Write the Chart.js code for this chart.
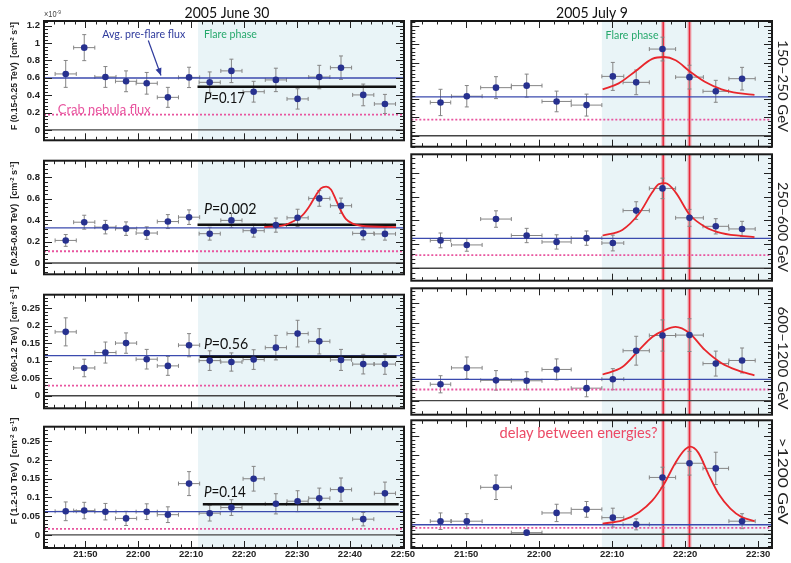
<!DOCTYPE html>
<html>
<head>
<meta charset="utf-8">
<script src="https://cdn.jsdelivr.net/npm/chart.js@4.4.1/dist/chart.umd.min.js"></script>
<style>
  html, body { margin: 0; padding: 0; background: #fff; }
  #fig { position: relative; width: 791px; height: 563px; overflow: hidden; }
  #fig canvas { position: absolute; }
</style>
</head>
<body>
<div id="fig"></div>
<script>
// time axis: minutes after 21:00 UT
const juneTimes   = [46.3, 49.8, 53.8, 57.7, 61.6, 65.6, 69.6, 73.5, 77.6, 81.8, 86.0, 90.1, 94.2, 98.3, 102.5, 106.6];
const juneTimeErr = [2.0, 2.0, 2.0, 2.0, 2.0, 2.0, 2.0, 2.0, 2.0, 2.0, 2.0, 2.0, 2.0, 2.0, 2.0, 2.0];
const julyTimes   = [46.5, 50.1, 54.1, 58.3, 62.4, 66.5, 70.1, 73.3, 76.9, 80.6, 84.2, 87.8];
const julyTimeErr = [1.4, 2.1, 2.1, 2.1, 2.0, 2.1, 1.5, 1.8, 1.8, 1.9, 1.75, 1.8];

// flux values (x 1e-9 cm^-2 s^-1 for the first band)
const june150    = [0.645, 0.948, 0.61, 0.56, 0.537, 0.375, 0.605, 0.548, 0.68, 0.44, 0.576, 0.357, 0.609, 0.717, 0.403, 0.299];
const june150Err = [0.155, 0.15, 0.12, 0.12, 0.125, 0.115, 0.117, 0.12, 0.135, 0.12, 0.135, 0.117, 0.135, 0.135, 0.125, 0.11];
const july150    = [0.364, 0.432, 0.526, 0.548, 0.375, 0.335, 0.649, 0.584, 0.948, 0.641, 0.486, 0.624];
const july150Err = [0.144, 0.117, 0.12, 0.126, 0.113, 0.12, 0.153, 0.135, 0.13, 0.13, 0.12, 0.124];

const june250    = [0.211, 0.381, 0.335, 0.321, 0.28, 0.387, 0.428, 0.274, 0.398, 0.302, 0.354, 0.422, 0.603, 0.535, 0.277, 0.272];
const june250Err = [0.055, 0.065, 0.063, 0.063, 0.058, 0.065, 0.068, 0.06, 0.065, 0.06, 0.066, 0.08, 0.073, 0.071, 0.06, 0.058];
const july250    = [0.233, 0.195, 0.412, 0.274, 0.22, 0.252, 0.211, 0.483, 0.669, 0.422, 0.351, 0.329];
const july250Err = [0.062, 0.053, 0.069, 0.06, 0.06, 0.06, 0.066, 0.074, 0.086, 0.071, 0.064, 0.064];

const june600    = [0.182, 0.079, 0.123, 0.15, 0.104, 0.085, 0.144, 0.1, 0.096, 0.103, 0.137, 0.177, 0.155, 0.102, 0.09, 0.09];
const june600Err = [0.04, 0.025, 0.03, 0.029, 0.028, 0.027, 0.033, 0.028, 0.026, 0.028, 0.035, 0.038, 0.036, 0.03, 0.028, 0.029];
const july600    = [0.042, 0.084, 0.052, 0.051, 0.08, 0.032, 0.055, 0.128, 0.167, 0.168, 0.095, 0.103];
const july600Err = [0.022, 0.028, 0.025, 0.023, 0.027, 0.022, 0.027, 0.037, 0.04, 0.042, 0.032, 0.032];

const june1200    = [0.063, 0.065, 0.062, 0.044, 0.062, 0.054, 0.137, 0.058, 0.073, 0.15, 0.083, 0.09, 0.098, 0.121, 0.042, 0.111];
const june1200Err = [0.025, 0.022, 0.022, 0.019, 0.021, 0.021, 0.032, 0.021, 0.021, 0.033, 0.027, 0.028, 0.027, 0.031, 0.018, 0.03];
const july1200    = [0.033, 0.033, 0.119, 0.004, 0.054, 0.063, 0.042, 0.025, 0.144, 0.18, 0.167, 0.033];
const july1200Err = [0.021, 0.019, 0.031, 0.006, 0.022, 0.02, 0.024, 0.014, 0.026, 0.03, 0.041, 0.019];

// reference levels per band
const junePreFlare = [0.598, 0.329, 0.114, 0.062];
const julyPreFlare = [0.425, 0.25, 0.0545, 0.024];
const crabFlux     = [0.176, 0.11, 0.0286, 0.016];
const juneConstFit  = [0.497, 0.357, 0.111, 0.082];
const juneConstFrom = [71.2, 71.2, 71.6, 72.2];
const juneConstTo   = [108.7, 108.7, 108.8, 109.2];
const juneProb      = ['0.17', '0.002', '0.56', '0.14'];
const juneFlareStart = 71.3;
const julyFlareStart = 68.6;
const julyPeakTimes  = [77.0, 80.6];

// flare fits
const juneFit250T = [83.8, 87.6, 89.5, 91.0, 92.3, 93.6, 94.5, 95.5, 96.4, 97.3, 98.3, 99.2, 100.5, 102.1, 108.7];
const juneFit250V = [0.335, 0.354, 0.395, 0.444, 0.527, 0.636, 0.697, 0.713, 0.686, 0.595, 0.486, 0.412, 0.368, 0.348, 0.335];
const julyFit150T = [68.7, 70.9, 73.2, 75.5, 77.1, 78.7, 80.6, 82.7, 85.0, 87.3, 89.5];
const julyFit150V = [0.508, 0.573, 0.706, 0.84, 0.861, 0.825, 0.706, 0.591, 0.508, 0.465, 0.447];
const julyFit250T = [68.7, 71.4, 73.7, 75.5, 76.4, 77.3, 78.7, 80.6, 82.7, 85.0, 89.5];
const julyFit250V = [0.274, 0.321, 0.458, 0.636, 0.705, 0.713, 0.636, 0.45, 0.348, 0.294, 0.261];
const julyFit600T = [68.7, 71.4, 73.7, 75.5, 77.1, 78.7, 80.6, 82.7, 85.0, 87.3, 89.5];
const julyFit600V = [0.067, 0.086, 0.13, 0.163, 0.18, 0.189, 0.173, 0.13, 0.096, 0.077, 0.065];
const julyFit1200T = [68.7, 71.4, 73.7, 75.5, 77.1, 78.7, 80.0, 80.7, 81.8, 83.2, 84.6, 86.2, 87.7, 89.5];
const julyFit1200V = [0.027, 0.035, 0.056, 0.085, 0.127, 0.182, 0.215, 0.222, 0.207, 0.152, 0.102, 0.065, 0.044, 0.033];

const SANS = '"Liberation Sans", Arial, sans-serif';
const LATO = 'Lato, "Noto Sans", sans-serif';

const cols = [
  { left: true,  x0: 44,  x1: 404, tMin: 42.2, tMax: 110.2, flare: juneFlareStart, times: juneTimes, timeErr: juneTimeErr,
    flux: [june150, june250, june600, june1200], err: [june150Err, june250Err, june600Err, june1200Err],
    pre: junePreFlare },
  { left: false, x0: 410, x1: 772, tMin: 42.5, tMax: 91.9, flare: julyFlareStart, times: julyTimes, timeErr: julyTimeErr,
    flux: [july150, july250, july600, july1200], err: [july150Err, july250Err, july600Err, july1200Err],
    pre: julyPreFlare }
];

// ROOT style: 5 minor divisions per major step
const rows = [
  { y0: 21,  y1: 148, yMin: -0.12,  yMax: 1.255, step: 0.2,  minor: 0.04,
    eband: 'F (0.15-0.25 TeV)', titleY: 76, titleW: 108, band: '150\u2013250 GeV', bandY: 86, bandW: 92 },
  { y0: 153, y1: 282, yMin: -0.105, yMax: 0.955, step: 0.2,  minor: 0.04,
    eband: 'F (0.25-0.60 TeV)', titleY: 218, titleW: 113, band: '250\u2013600 GeV', bandY: 227, bandW: 90 },
  { y0: 287, y1: 416, yMin: -0.036, yMax: 0.288, step: 0.05, minor: 0.01,
    eband: 'F (0.60-1.2 TeV)', titleY: 338, titleW: 103, band: '600\u20131200 GeV', bandY: 358, bandW: 103 },
  { y0: 419, y1: 548, yMin: -0.035, yMax: 0.289, step: 0.05, minor: 0.01,
    eband: 'F (1.2-10 TeV)', titleY: 471, titleW: 107, band: '>1200 GeV', bandY: 481, bandW: 87 }
];

const fitCurves = {
  '0-1': [julyFit150T, julyFit150V], '1-1': [julyFit250T, julyFit250V],
  '2-1': [julyFit600T, julyFit600V], '3-1': [julyFit1200T, julyFit1200V],
  '1-0': [juneFit250T, juneFit250V]
};

function fmtTime(v) {
  const h = 21 + Math.floor(v / 60);
  const m = Math.round(v % 60);
  return h + ':' + String(m).padStart(2, '0');
}

// draw text pieces squeezed to a given width
function drawParts(ctx, parts, x, y, align, targetW, color) {
  let total = 0;
  parts.forEach(p => { ctx.font = p.font; p.w = ctx.measureText(p.text).width; total += p.w; });
  const sx = targetW ? targetW / total : 1;
  ctx.save();
  ctx.translate(x, y);
  ctx.scale(sx, 1);
  let cx = align === 'center' ? -total / 2 : (align === 'right' ? -total : 0);
  ctx.fillStyle = color;
  ctx.textBaseline = 'middle';
  ctx.textAlign = 'left';
  parts.forEach(p => { ctx.font = p.font; ctx.fillText(p.text, cx, p.dy || 0); cx += p.w; });
  ctx.restore();
}

function pText(prob, size) {
  return [{ text: 'P', font: 'italic ' + size + 'px ' + LATO }, { text: '=' + prob, font: size + 'px ' + LATO }];
}

const fig = document.getElementById('fig');

function makePanel(ci, ri) {
  const col = cols[ci], row = rows[ri];
  const isBottom = ri === 3;
  const padT = ri === 0 ? row.y0 : 2;
  const padB = 2;
  const axisH = isBottom ? 13 : 0;
  const axisW = col.left ? 44 : 0;
  const padL = col.left ? 0 : 2;
  const padR = col.left ? 16 : 19;
  const left = col.x0 - axisW - padL;
  const top = row.y0 - padT;
  const width = padL + axisW + (col.x1 - col.x0) + padR;
  const height = padT + (row.y1 - row.y0) + axisH + padB;

  const cv = document.createElement('canvas');
  cv.width = width; cv.height = height;
  cv.style.left = left + 'px'; cv.style.top = top + 'px';
  cv.style.width = width + 'px'; cv.style.height = height + 'px';
  fig.appendChild(cv);

  const flux = col.flux[ri], err = col.err[ri];
  const points = col.times.map((t, i) => ({ x: t, y: flux[i] }));

  const datasets = [{
    type: 'scatter', data: points, pointRadius: 3.3, pointBackgroundColor: '#27318f',
    pointBorderWidth: 0, pointHoverRadius: 3.3
  }];
  const fit = fitCurves[ri + '-' + ci];
  if (fit) {
    datasets.push({
      type: 'line', data: fit[0].map((t, i) => ({ x: t, y: fit[1][i] })),
      borderColor: '#e8262c', borderWidth: 1.8, pointRadius: 0, cubicInterpolationMode: 'monotone', fill: false
    });
  }
  if (col.left) {
    datasets.push({
      type: 'line', data: [{ x: juneConstFrom[ri], y: juneConstFit[ri] }, { x: juneConstTo[ri], y: juneConstFit[ri] }],
      borderColor: '#111', borderWidth: 2.6, pointRadius: 0
    });
  }
  datasets.push({
    type: 'line', data: [{ x: col.tMin, y: col.pre[ri] }, { x: col.tMax, y: col.pre[ri] }],
    borderColor: '#3b4aae', borderWidth: 1.3, pointRadius: 0
  });
  datasets.push({
    type: 'line', data: [{ x: col.tMin, y: crabFlux[ri] }, { x: col.tMax, y: crabFlux[ri] }],
    borderColor: '#e8559f', borderWidth: 1.8, borderDash: [2, 2], pointRadius: 0
  });
  datasets.push({
    type: 'line', data: [{ x: col.tMin, y: 0 }, { x: col.tMax, y: 0 }],
    borderColor: '#444', borderWidth: 1.4, pointRadius: 0
  });

  const decor = {
    id: 'decor',
    beforeDatasetsDraw(chart) {
      const { ctx, chartArea: a, scales: { x, y } } = chart;
      ctx.save();
      const fx = x.getPixelForValue(col.flare);
      ctx.fillStyle = '#e9f4f7';
      ctx.fillRect(fx, a.top, a.right - fx, a.bottom - a.top);
      if (!col.left) {
        julyPeakTimes.forEach(t => {
          const px = x.getPixelForValue(t);
          ctx.strokeStyle = 'rgba(240,120,135,0.55)'; ctx.lineWidth = 4;
          ctx.beginPath(); ctx.moveTo(px, a.top); ctx.lineTo(px, a.bottom); ctx.stroke();
          ctx.strokeStyle = '#e8283a'; ctx.lineWidth = 1.5;
          ctx.beginPath(); ctx.moveTo(px, a.top); ctx.lineTo(px, a.bottom); ctx.stroke();
        });
      }
      // error bars
      ctx.strokeStyle = '#858585'; ctx.lineWidth = 1;
      col.times.forEach((t, i) => {
        const px = x.getPixelForValue(t), py = y.getPixelForValue(flux[i]);
        const yl = y.getPixelForValue(flux[i] - err[i]), yh = y.getPixelForValue(flux[i] + err[i]);
        const xl = x.getPixelForValue(t - col.timeErr[i]), xh = x.getPixelForValue(t + col.timeErr[i]);
        ctx.beginPath();
        ctx.moveTo(px, yl); ctx.lineTo(px, yh);
        ctx.moveTo(px - 2, yl); ctx.lineTo(px + 2, yl);
        ctx.moveTo(px - 2, yh); ctx.lineTo(px + 2, yh);
        ctx.moveTo(xl, py); ctx.lineTo(xh, py);
        ctx.moveTo(xl, py - 2); ctx.lineTo(xl, py + 2);
        ctx.moveTo(xh, py - 2); ctx.lineTo(xh, py + 2);
        ctx.stroke();
      });
      ctx.restore();
    },
    afterDatasetsDraw(chart) {
      const { ctx, chartArea: a, scales: { x, y } } = chart;
      ctx.save();
      // inner tick marks
      ctx.strokeStyle = '#222'; ctx.lineWidth = 1;
      ctx.beginPath();
      const yMinor = row.minor, xMinor = 2;
      for (let k = Math.ceil(row.yMin / yMinor - 1e-6); k * yMinor <= row.yMax + 1e-9; k++) {
        const v = k * yMinor;
        const isMajor = Math.abs(v / row.step - Math.round(v / row.step)) < 1e-6;
        const len = isMajor ? 8 : 4;
        const py = Math.round(y.getPixelForValue(v)) + 0.5;
        ctx.moveTo(a.left, py); ctx.lineTo(a.left + len, py);
        ctx.moveTo(a.right, py); ctx.lineTo(a.right - len, py);
      }
      for (let t = Math.ceil(col.tMin / xMinor) * xMinor; t <= col.tMax; t += xMinor) {
        const len = t % 10 === 0 ? 7 : 3.5;
        const px = Math.round(x.getPixelForValue(t)) + 0.5;
        ctx.moveTo(px, a.bottom); ctx.lineTo(px, a.bottom - len);
        ctx.moveTo(px, a.top); ctx.lineTo(px, a.top + len);
      }
      ctx.stroke();
      // frame
      ctx.strokeStyle = '#1a1a1a'; ctx.lineWidth = 2;
      ctx.strokeRect(a.left, a.top, a.right - a.left, a.bottom - a.top);

      // annotations (positions given in data coordinates)
      const X = t => x.getPixelForValue(t), Y = v => y.getPixelForValue(v);
      if (col.left) {
        const pos = [[72.4, 0.367], [72.4, 0.503], [72.4, 0.1475], [72.4, 0.113]][ri];
        const pw = [41, 52.7, 44.3, 42][ri];
        drawParts(ctx, pText(juneProb[ri], 15), X(pos[0]), Y(pos[1]), 'left', pw, '#111');
      }
      if (ri === 0) {
        ctx.fillStyle = '#111';
        if (col.left) {
          drawParts(ctx, [{ text: 'Avg. pre-flare flux', font: '12px ' + LATO }], X(53.2), Y(1.103), 'left', 83, '#2e3a9c');
          drawParts(ctx, [{ text: 'Flare phase', font: '12px ' + LATO }], X(72.4), Y(1.103), 'left', 53, '#26a86c');
          drawParts(ctx, [{ text: 'Crab nebula flux', font: '13px ' + LATO }], X(44.8), Y(0.237), 'left', 93, '#e8559f');
          // arrow to the pre-flare level
          const ax0 = X(61.9), ay0 = Y(1.03), ax1 = X(64.3), ay1 = Y(0.627);
          ctx.strokeStyle = '#2e3a9c'; ctx.fillStyle = '#2e3a9c'; ctx.lineWidth = 1.2;
          ctx.beginPath(); ctx.moveTo(ax0, ay0); ctx.lineTo(ax1, ay1); ctx.stroke();
          const ang = Math.atan2(ay1 - ay0, ax1 - ax0);
          ctx.beginPath();
          ctx.moveTo(ax1, ay1);
          ctx.lineTo(ax1 - 8 * Math.cos(ang - 0.4), ay1 - 8 * Math.sin(ang - 0.4));
          ctx.lineTo(ax1 - 8 * Math.cos(ang + 0.4), ay1 - 8 * Math.sin(ang + 0.4));
          ctx.closePath(); ctx.fill();
        } else {
          drawParts(ctx, [{ text: 'Flare phase', font: '12px ' + LATO }], X(69.1), Y(1.103), 'left', 53, '#26a86c');
        }
      }
      if (ri === 3 && !col.left) {
        drawParts(ctx, [{ text: 'delay between energies?', font: '15px ' + LATO }], X(65.4), Y(0.2565), 'center', 158, '#ec4a66');
      }

      // labels outside the frame (page coordinates shifted into this canvas)
      const ox = left, oy = top;
      if (col.left) {
        const sm = 'bold 6px ' + SANS, bg = 'bold 9px ' + SANS;
        ctx.save();
        ctx.translate(15 - ox, row.titleY - oy);
        ctx.rotate(-Math.PI / 2);
        drawParts(ctx, [
          { text: row.eband + '  [cm', font: bg }, { text: '-2', font: sm, dy: -3 },
          { text: ' s', font: bg }, { text: '-1', font: sm, dy: -3 }, { text: ']', font: bg }
        ], 0, 0, 'center', row.titleW, '#222');
        ctx.restore();
        if (ri === 0) {
          drawParts(ctx, [{ text: '\u00d710', font: '9px ' + SANS }, { text: '-9', font: '6px ' + SANS, dy: -3 }],
            44 - ox, 15 - oy, 'left', 17, '#444');
          drawParts(ctx, [{ text: '2005 June 30', font: '16px ' + LATO }], 227 - ox, 13 - oy, 'center', 85, '#111');
        }
      } else {
        ctx.save();
        ctx.translate(783 - ox, row.bandY - oy);
        ctx.rotate(Math.PI / 2);
        drawParts(ctx, [{ text: row.band, font: '14px ' + LATO }], 0, 0, 'center', row.bandW, '#222');
        ctx.restore();
        if (ri === 0) {
          drawParts(ctx, [{ text: '2005 July 9', font: '16px ' + LATO }], 592 - ox, 13 - oy, 'center', 72, '#111');
        }
      }
      ctx.restore();
    }
  };

  const tickFont = { family: SANS, size: 9.5, weight: 'bold' };
  new Chart(cv, {
    type: 'scatter',
    data: { datasets },
    options: {
      responsive: false,
      animation: false,
      devicePixelRatio: 1,
      layout: { padding: { left: padL, right: padR, top: padT, bottom: padB } },
      plugins: { legend: { display: false }, tooltip: { enabled: false } },
      scales: {
        x: {
          type: 'linear', min: col.tMin, max: col.tMax, display: isBottom,
          grid: { display: false, drawTicks: false }, border: { display: false },
          ticks: { stepSize: 10, includeBounds: false, autoSkip: false, maxRotation: 0, padding: 1,
                   font: tickFont, color: '#222', callback: v => fmtTime(v) },
          afterFit: s => { s.height = axisH; }
        },
        y: {
          type: 'linear', min: row.yMin, max: row.yMax, display: col.left,
          grid: { display: false, drawTicks: false }, border: { display: false },
          ticks: { stepSize: row.step, includeBounds: false, padding: 4,
                   font: tickFont, color: '#222', callback: v => String(+v.toFixed(3)) },
          afterFit: s => { s.width = axisW; }
        }
      }
    },
    plugins: [decor]
  });
}

for (let ri = 0; ri < rows.length; ri++) {
  for (let ci = 0; ci < cols.length; ci++) makePanel(ci, ri);
}
</script>
</body>
</html>
